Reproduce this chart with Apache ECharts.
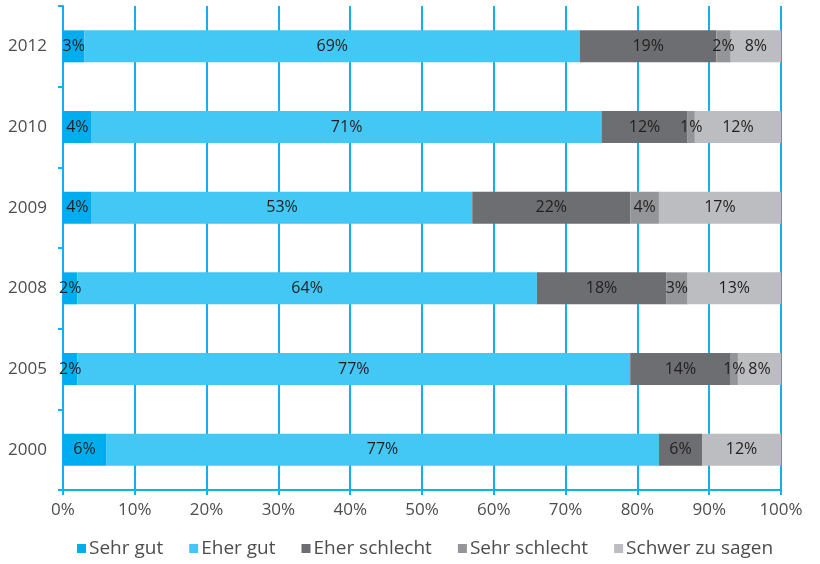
<!DOCTYPE html>
<html>
<head>
<meta charset="utf-8">
<script src="https://cdn.jsdelivr.net/npm/echarts@6/dist/echarts.min.js"></script>
<style>
  html, body { margin: 0; padding: 0; background: #fff; }
  #chart { width: 820px; height: 564px; }
</style>
</head>
<body>
<div id="chart"></div>
<script>
// Survey years, bottom to top
const years = ['2000', '2005', '2008', '2009', '2010', '2012'];
const seriesNames = ['Sehr gut', 'Eher gut', 'Eher schlecht', 'Sehr schlecht', 'Schwer zu sagen'];

// Shares in percent, same order as years
const sehrGut       = [6, 2, 2, 4, 4, 3];
const eherGut       = [77, 77, 64, 53, 71, 69];
const eherSchlecht  = [6, 14, 18, 22, 12, 19];
const sehrSchlecht  = [0, 1, 3, 4, 1, 2];
const schwerZuSagen = [12, 8, 13, 17, 12, 8];

const xTicks = [0, 10, 20, 30, 40, 50, 60, 70, 80, 90, 100];

const colors = ['#00aeef', '#43c7f4', '#6d6e71', '#939598', '#bcbdc0'];
const axisBlue = '#12b0ec';
const fontFamily = '"Open Sans", "Noto Sans", sans-serif';

const values = [sehrGut, eherGut, eherSchlecht, sehrSchlecht, schwerZuSagen];

const chart = echarts.init(document.getElementById('chart'), null, { renderer: 'canvas' });

chart.setOption({
  animation: false,
  color: colors,
  textStyle: { fontFamily: fontFamily },
  grid: { left: 63, right: 39, top: 6, bottom: 74, containLabel: false },
  legend: {
    bottom: 1,
    left: 72,
    icon: 'rect',
    itemWidth: 9,
    itemHeight: 9,
    itemGap: 26,
    textStyle: { fontSize: 19, color: '#4d4d4f', fontFamily: fontFamily, padding: [0, 0, 0, -2] },
    data: seriesNames
  },
  xAxis: {
    type: 'value',
    min: xTicks[0],
    max: xTicks[xTicks.length - 1],
    interval: 10,
    axisLine: { show: true, lineStyle: { color: axisBlue, width: 2 } },
    axisTick: { show: true, length: 5, lineStyle: { color: axisBlue, width: 2 } },
    splitLine: { show: true, lineStyle: { color: axisBlue, width: 2 } },
    axisLabel: {
      fontSize: 17,
      color: '#4d4d4f',
      margin: 12,
      formatter: v => v + '%'
    }
  },
  yAxis: {
    type: 'category',
    data: years,
    axisLine: { show: true, lineStyle: { color: axisBlue, width: 2 } },
    axisTick: { show: true, length: 5, lineStyle: { color: axisBlue, width: 2 } },
    axisLabel: { fontSize: 17, color: '#4d4d4f', margin: 16 }
  },
  series: seriesNames.map((name, i) => ({
    name: name,
    type: 'bar',
    stack: 'total',
    barWidth: 32,
    data: values[i],
    itemStyle: { color: colors[i] },
    label: {
      show: true,
      position: 'inside',
      fontSize: 16,
      color: '#231f20',
      fontFamily: fontFamily,
      formatter: p => (p.value > 0 ? p.value + '%' : '')
    }
  }))
});
</script>
</body>
</html>
